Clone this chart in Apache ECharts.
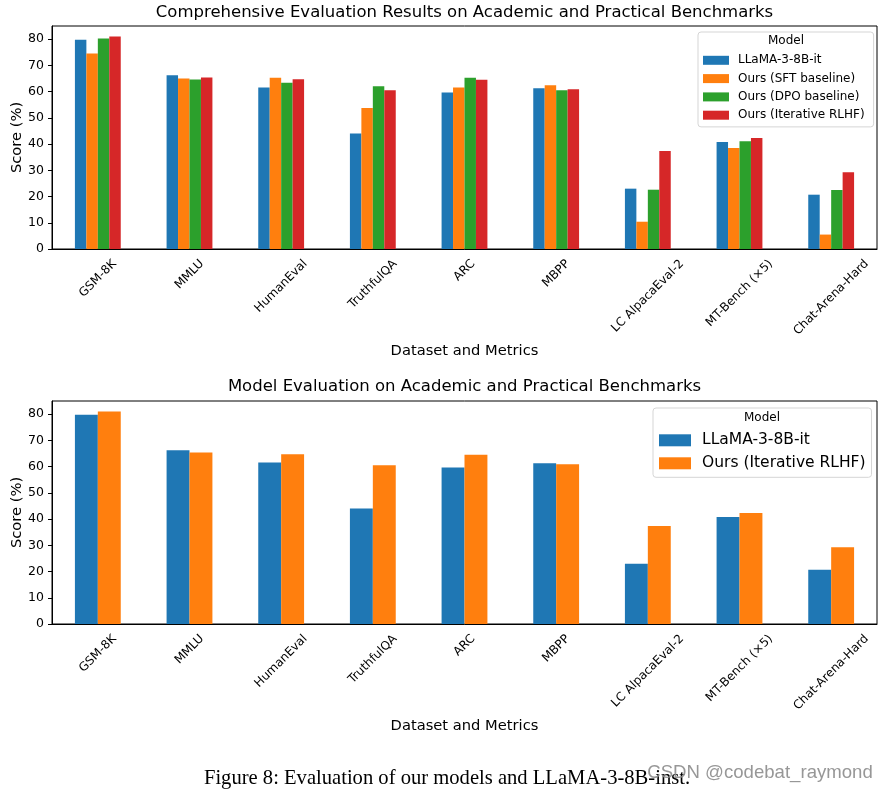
<!DOCTYPE html>
<html>
<head>
<meta charset="utf-8">
<script src="https://cdn.jsdelivr.net/npm/echarts@6/dist/echarts.min.js"></script>
<style>
  html, body { margin: 0; padding: 0; background: #fff; }
  #c1 { position: absolute; left: 0; top: 0; width: 888px; height: 375px; }
  #c2 { position: absolute; left: 0; top: 375px; width: 888px; height: 418px; }
</style>
</head>
<body>
<div id="c1"></div>
<div id="c2"></div>
<script>
// ---- data ----
const categories = ['GSM-8K', 'MMLU', 'HumanEval', 'TruthfulQA', 'ARC', 'MBPP', 'LC AlpacaEval-2', 'MT-Bench (\u00d75)', 'Chat-Arena-Hard'];
const seriesNames = ['LLaMA-3-8B-it', 'Ours (SFT baseline)', 'Ours (DPO baseline)', 'Ours (Iterative RLHF)'];
const llamaScores = [79.8, 66.2, 61.6, 44.0, 59.7, 61.3, 23.0, 40.8, 20.7];
const sftScores   = [74.5, 65.0, 65.3, 53.7, 61.6, 62.4, 10.4, 38.5, 5.5];
const dpoScores   = [80.2, 64.6, 63.4, 62.0, 65.3, 60.5, 22.6, 41.1, 22.5];
const rlhfScores  = [81.0, 65.4, 64.7, 60.5, 64.5, 60.9, 37.4, 42.3, 29.3];
const yTicks = [0, 10, 20, 30, 40, 50, 60, 70, 80];
const topTitle = 'Comprehensive Evaluation Results on Academic and Practical Benchmarks';
const bottomTitle = 'Model Evaluation on Academic and Practical Benchmarks';
const xName = 'Dataset and Metrics';
const yName = 'Score (%)';
const legendTitle = 'Model';
const caption = 'Figure 8: Evaluation of our models and LLaMA-3-8B-inst.';
const watermark = 'CSDN @codebat_raymond';

const C_BLUE = '#1f77b4', C_ORANGE = '#ff7f0e', C_GREEN = '#2ca02c', C_RED = '#d62728';
const FONT = 'DejaVu Sans';

// text measuring for matplotlib-style centred rotated tick labels
const mctx = document.createElement('canvas').getContext('2d');
mctx.font = '12px "' + FONT + '"';
function labelSeries() {
  return {
    type: 'custom',
    silent: true,
    clip: false,
    z: 10,
    data: categories.map((c, i) => [i, 0]),
    encode: { x: 0, y: 1 },
    renderItem: function (params, api) {
      const idx = api.value(0);
      const p = api.coord([idx, 0]);
      const txt = categories[idx];
      const w = mctx.measureText(txt).width;
      const d = 8 + 0.7071 * (w + 14) / 2;
      return {
        type: 'text',
        x: p[0],
        y: p[1] + d,
        rotation: Math.PI / 4,
        style: {
          text: txt, fontSize: 12, fontFamily: FONT, fill: '#000',
          align: 'center', verticalAlign: 'middle'
        }
      };
    }
  };
}

function baseAxes() {
  return {
    grid: { left: 52, top: 26, width: 825, height: 223, outerBoundsMode: 'none', containLabel: false,
            show: true, borderColor: '#000', borderWidth: 1, backgroundColor: 'transparent' },
    xAxis: {
      type: 'category', data: categories,
      axisLine: { lineStyle: { color: '#000', width: 1 } },
      axisTick: { alignWithLabel: true, length: 4, lineStyle: { color: '#000' } },
      axisLabel: { show: false },
      name: xName, nameLocation: 'middle', nameGap: 95, nameMoveOverlap: false,
      nameTextStyle: { fontSize: 14.7, color: '#000', fontFamily: FONT }
    },
    yAxis: {
      type: 'value', min: 0, max: 85, interval: 10,
      splitLine: { show: false },
      axisLine: { show: true, lineStyle: { color: '#000', width: 1 } },
      axisTick: { show: true, length: 4, customValues: yTicks, lineStyle: { color: '#000' } },
      axisLabel: { customValues: yTicks, fontSize: 12.5, color: '#000', margin: 8, fontFamily: FONT },
      name: yName, nameLocation: 'middle', nameGap: 27, nameMoveOverlap: false,
      nameTextStyle: { fontSize: 14.7, color: '#000', fontFamily: FONT }
    }
  };
}

// ---- top chart ----
const chart1 = echarts.init(document.getElementById('c1'), null, { renderer: 'canvas' });
const ax1 = baseAxes();
const topData = [llamaScores, sftScores, dpoScores, rlhfScores];
const topColors = [C_BLUE, C_ORANGE, C_GREEN, C_RED];
chart1.setOption({
  animation: false,
  textStyle: { fontFamily: FONT },
  title: [
    { text: topTitle, left: 464.5, top: 4.5, padding: 0, textAlign: 'center',
      textStyle: { fontSize: 16.5, fontWeight: 'normal', color: '#000', fontFamily: FONT } },
    { text: legendTitle, left: 786, top: 35, padding: 0, textAlign: 'center', z: 20,
      textStyle: { fontSize: 12, fontWeight: 'normal', color: '#000', fontFamily: FONT } }
  ],
  legend: {
    data: seriesNames, orient: 'vertical', left: 698, top: 32,
    icon: 'rect', itemWidth: 26, itemHeight: 9, itemGap: 4.3, align: 'left',
    padding: [21.3, 9, 4.7, 5],
    backgroundColor: '#fff', borderColor: '#d5d5d5', borderWidth: 1, borderRadius: 3,
    textStyle: { fontSize: 12, lineHeight: 14, color: '#000', fontFamily: FONT, padding: [0, 0, 0, 4] }
  },
  grid: ax1.grid, xAxis: ax1.xAxis, yAxis: ax1.yAxis,
  series: seriesNames.map((n, k) => ({
    type: 'bar', name: n, data: topData[k], barWidth: '12.5%', barGap: '0%',
    itemStyle: { color: topColors[k] }
  })).concat([labelSeries()])
});

// ---- bottom chart ----
const chart2 = echarts.init(document.getElementById('c2'), null, { renderer: 'canvas' });
const ax2 = baseAxes();
const bottomNames = [seriesNames[0], seriesNames[3]];
const bottomData = [llamaScores, rlhfScores];
const bottomColors = [C_BLUE, C_ORANGE];
chart2.setOption({
  animation: false,
  textStyle: { fontFamily: FONT },
  title: [
    { text: bottomTitle, left: 464.5, top: 3.5, padding: 0, textAlign: 'center',
      textStyle: { fontSize: 16.5, fontWeight: 'normal', color: '#000', fontFamily: FONT } },
    { text: legendTitle, left: 762, top: 37, padding: 0, textAlign: 'center', z: 20,
      textStyle: { fontSize: 12, fontWeight: 'normal', color: '#000', fontFamily: FONT } }
  ],
  legend: {
    data: bottomNames, orient: 'vertical', left: 653, top: 33,
    icon: 'rect', itemWidth: 32, itemHeight: 12, itemGap: 5, align: 'left',
    padding: [23.3, 6, 5, 6],
    backgroundColor: '#fff', borderColor: '#d5d5d5', borderWidth: 1, borderRadius: 3,
    textStyle: { fontSize: 15.5, lineHeight: 18, color: '#000', fontFamily: FONT, padding: [0, 0, 0, 6] }
  },
  grid: ax2.grid, xAxis: ax2.xAxis, yAxis: ax2.yAxis,
  graphic: [
    { type: 'text', x: 447, y: 404, z: 30,
      style: { text: caption, fontSize: 20.6, fontFamily: 'Liberation Serif', fill: '#000', align: 'center', verticalAlign: 'middle' } },
    { type: 'text', x: 760, y: 398, z: 31,
      style: { text: watermark, fontSize: 18.6, fontFamily: 'Liberation Sans', fill: 'rgba(140,140,140,0.9)', align: 'center', verticalAlign: 'middle' } }
  ],
  series: bottomNames.map((n, k) => ({
    type: 'bar', name: n, data: bottomData[k], barWidth: '25%', barGap: '0%',
    itemStyle: { color: bottomColors[k] }
  })).concat([labelSeries()])
});
</script>
</body>
</html>
